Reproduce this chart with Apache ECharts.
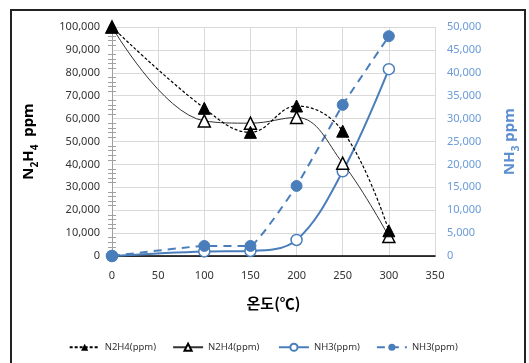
<!DOCTYPE html>
<html><head><meta charset="utf-8">
<script src="https://cdn.jsdelivr.net/npm/echarts@6/dist/echarts.min.js"></script>
<style>html,body{margin:0;padding:0;background:#fff}#c{width:529px;height:363px}</style>
</head><body><div id="c"></div>
<script>
const temps = [0, 100, 150, 200, 250, 300];
const n2h4Dashed = [100000, 64500, 54000, 65500, 54500, 11000];
const n2h4Solid = [100000, 59000, 58000, 60500, 40500, 8500];
const nh3Solid = [0, 1000, 1100, 3500, 18500, 40800];
const nh3Dashed = [0, 2200, 2200, 15300, 33000, 48000];
const seriesNames = ['N2H4(ppm)', 'N2H4(ppm) ', 'NH3(ppm)', 'NH3(ppm) '];

const pairs = arr => temps.map((t, i) => [t, arr[i]]);
const blue = '#4a7ebb';
const font = '"Noto Sans", "Noto Sans CJK KR", sans-serif';

const chart = echarts.init(document.getElementById('c'));
chart.setOption({
  animation: false,
  textStyle: { fontFamily: font },
  graphic: [{ type: 'rect', shape: { x: 11, y: 10, width: 514, height: 362 }, style: { fill: 'none', stroke: '#222', lineWidth: 2 }, silent: true }],
  grid: { left: 112, right: 93, top: 27, bottom: 107, containLabel: false },
  xAxis: [{
    type: 'value', min: 0, max: 350, interval: 50,
    name: '온도(℃)', nameLocation: 'middle', nameGap: 40,
    nameTextStyle: { fontSize: 15, fontWeight: 'bold', color: '#000', fontFamily: '"Noto Sans CJK KR", sans-serif' },
    axisLine: { lineStyle: { color: '#a0a0a0' } },
    axisTick: { show: false },
    axisLabel: { fontSize: 11, color: '#333', margin: 14 },
    splitLine: { lineStyle: { color: '#d9d9d9' } }
  }, {
    type: 'value', position: 'top', min: 0, max: 350,
    axisLine: { show: true, lineStyle: { color: '#000', width: 1.5 } },
    axisTick: { show: false }, axisLabel: { show: false }, splitLine: { show: false }
  }],
  yAxis: [{
    type: 'value', min: 0, max: 100000, interval: 10000,
    name: '{n|N}{s|2}{n|H}{s|4}{n|  ppm}', nameLocation: 'middle', nameGap: 72, nameRotate: 90,
    nameTextStyle: { fontSize: 15, fontWeight: 'bold', color: '#000',
      rich: {
        n: { fontSize: 15, fontWeight: 'bold', color: '#000', lineHeight: 22 },
        s: { fontSize: 10, fontWeight: 'bold', color: '#000', lineHeight: 8, verticalAlign: 'bottom' } } },
    axisLine: { show: true, lineStyle: { color: '#a0a0a0' } },
    axisTick: { show: false, inside: true },
    minorTick: { show: true, splitNumber: 5, length: 4, lineStyle: { color: '#a0a0a0' } },
    axisLabel: { fontSize: 11, color: '#333', margin: 12, formatter: v => v.toLocaleString('en-US') },
    splitLine: { lineStyle: { color: '#d9d9d9' } }
  }, {
    type: 'value', min: 0, max: 50000, interval: 5000, position: 'right',
    name: '{n|NH}{s|3}{n| ppm}', nameLocation: 'middle', nameGap: 64, nameRotate: 90,
    nameTextStyle: { fontSize: 15, fontWeight: 'bold', color: '#5b8fd0',
      rich: {
        n: { fontSize: 15, fontWeight: 'bold', color: '#5b8fd0', lineHeight: 22 },
        s: { fontSize: 10, fontWeight: 'bold', color: '#5b8fd0', lineHeight: 8, verticalAlign: 'bottom' } } },
    axisLine: { show: true, lineStyle: { color: '#a0a0a0' } },
    axisTick: { show: false, inside: true },
    minorTick: { show: true, splitNumber: 5, length: 4, lineStyle: { color: '#a0a0a0' } },
    axisLabel: { fontSize: 11, color: '#6a9bd8', margin: 12, formatter: v => v.toLocaleString('en-US') },
    splitLine: { show: false }
  }],
  legend: {
    bottom: 6, left: 'center', itemGap: 16, itemWidth: 30, itemHeight: 9,
    textStyle: { fontSize: 9.5, color: '#333' },
    data: seriesNames
  },
  series: [
    { name: seriesNames[1], type: 'line', yAxisIndex: 0, data: pairs(n2h4Solid), smooth: 0.4,
      symbol: 'triangle', symbolSize: 12,
      lineStyle: { color: '#333', width: 1 },
      itemStyle: { color: '#fff', borderColor: '#000', borderWidth: 1.5 }, z: 3 },
    { name: seriesNames[0], type: 'line', yAxisIndex: 0, data: pairs(n2h4Dashed), smooth: 0.4,
      symbol: 'triangle', symbolSize: 12,
      lineStyle: { color: '#000', width: 1.2, type: [3, 2] },
      itemStyle: { color: '#000', borderColor: '#000' }, z: 4 },
    { name: seriesNames[2], type: 'line', yAxisIndex: 1, data: pairs(nh3Solid), smooth: 0.35,
      symbol: 'circle', symbolSize: 11,
      lineStyle: { color: blue, width: 2 },
      itemStyle: { color: '#fff', borderColor: blue, borderWidth: 1.5 }, z: 2 },
    { name: seriesNames[3], type: 'line', yAxisIndex: 1, data: pairs(nh3Dashed), smooth: 0.1,
      symbol: 'circle', symbolSize: 11,
      lineStyle: { color: blue, width: 2, type: [8, 6] },
      itemStyle: { color: blue, borderColor: blue }, z: 2 }
  ]
});
</script></body></html>
